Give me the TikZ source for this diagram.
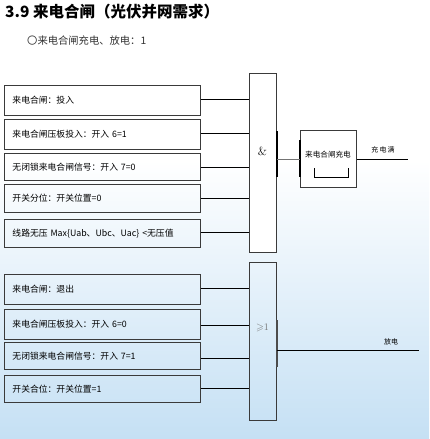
\documentclass[tikz,border=0pt]{standalone}
\usepackage{amssymb}
\usepackage{fontspec}
\newfontfamily\cjk{Noto Sans CJK SC}
\definecolor{bgblue}{HTML}{C5E0F4}
\definecolor{edge}{HTML}{3A3A3A}
\begin{document}
\begin{tikzpicture}[x=1pt,y=-1pt,
  inbox/.style={draw=edge, line width=0.9pt, minimum width=196pt, anchor=north west, inner xsep=8pt, inner ysep=0pt, font=\cjk\fontsize{8.8}{10}\selectfont, text width=180pt, align=left},
  gate/.style={draw=edge, line width=0.9pt, anchor=north west, minimum width=27pt, inner sep=0pt},
  wire/.style={line width=0.9pt, black},
  lbl/.style={font=\cjk\fontsize{7}{8}\selectfont, inner sep=0pt}]
\useasboundingbox (0,0) rectangle (429,439);
\fill[white] (0,0) rectangle (429,160);
\shade[top color=white, bottom color=bgblue] (0,160) rectangle (429,439);
% title
\node[anchor=west, inner sep=0pt, font=\cjk\bfseries\fontsize{15.5}{18}\selectfont] (title) at (5,12) {3.9 来电合闸（光伏并网需求）};
\node[anchor=west, inner sep=0pt, font=\cjk\fontsize{10.3}{12}\selectfont, text=black!80] (sub) at (27,41) {〇来电合闸充电、放电：1};
% top inputs
\node[inbox, minimum height=30pt] (a1) at (4,85) {来电合闸：投入};
\node[inbox, minimum height=30pt] (a2) at (4,119) {来电合闸压板投入：开入 6=1};
\node[inbox, minimum height=27pt] (a3) at (4,153) {无闭锁来电合闸信号：开入 7=0};
\node[inbox, minimum height=28pt] (a4) at (4,184) {开关分位：开关位置=0};
\node[inbox, minimum height=28pt] (a5) at (4,219) {线路无压 Max\{Uab、Ubc、Uac\} <无压值};
% AND gate
\node[gate, minimum height=179pt, fill=white] (and) at (249,73) {};
\node[font=\fontsize{12}{14}\selectfont] (andl) at (262.5,151) {\&};
\draw[line width=2pt] (and.north east |- 0,131) -- (and.north east |- 0,177);
\foreach \i/\y in {1/99,2/133,3/167,4/198,5/232}
  \draw[wire] (a\i.east |- 0,\y) -- (and.west |- 0,\y);
% charge box
\node[draw=edge, line width=0.9pt, fill=white, anchor=north west, minimum width=56pt, minimum height=57pt, inner sep=0pt] (chg) at (300,130) {};
\node[lbl, font=\cjk\fontsize{7.6}{9}\selectfont] (chgl) at (328,155) {来电合闸充电};
\draw[line width=1.8pt] (300,140) -- (300,177);
\draw[wire, line width=1pt] (314,168) -- (314,177) -- (348,177) -- (348,168);
\draw[line width=1pt, black!55] (and.east |- 0,159) -- (chg.west |- 0,159);
\coordinate (full) at (408,159);
\draw[wire] (chg.east |- 0,159) -- (full);
\node[lbl] (fulll) at (383,150) {充\,电\,满};
% bottom inputs
\node[inbox, minimum height=30pt] (b1) at (4,274) {来电合闸：退出};
\node[inbox, minimum height=30pt] (b2) at (4,309) {来电合闸压板投入：开入 6=0};
\node[inbox, minimum height=27pt] (b3) at (4,342) {无闭锁来电合闸信号：开入 7=1};
\node[inbox, minimum height=27pt] (b4) at (4,375) {开关合位：开关位置=1};
% OR gate
\node[gate, minimum height=158pt] (or) at (249,262) {};
\node[font=\fontsize{10}{12}\selectfont, text=black!55] (orl) at (262.5,328) {$\geqslant$1};
\draw[line width=1.6pt, black!70] (or.north east |- 0,320) -- (or.north east |- 0,367);
\foreach \i/\y in {1/288,2/325,3/358,4/388}
  \draw[wire] (b\i.east |- 0,\y) -- (or.west |- 0,\y);
\coordinate (dis) at (419,350);
\draw[wire] (or.east |- 0,350) -- (dis);
\node[lbl] (disl) at (391,342) {放电};
\end{tikzpicture}
\end{document}
